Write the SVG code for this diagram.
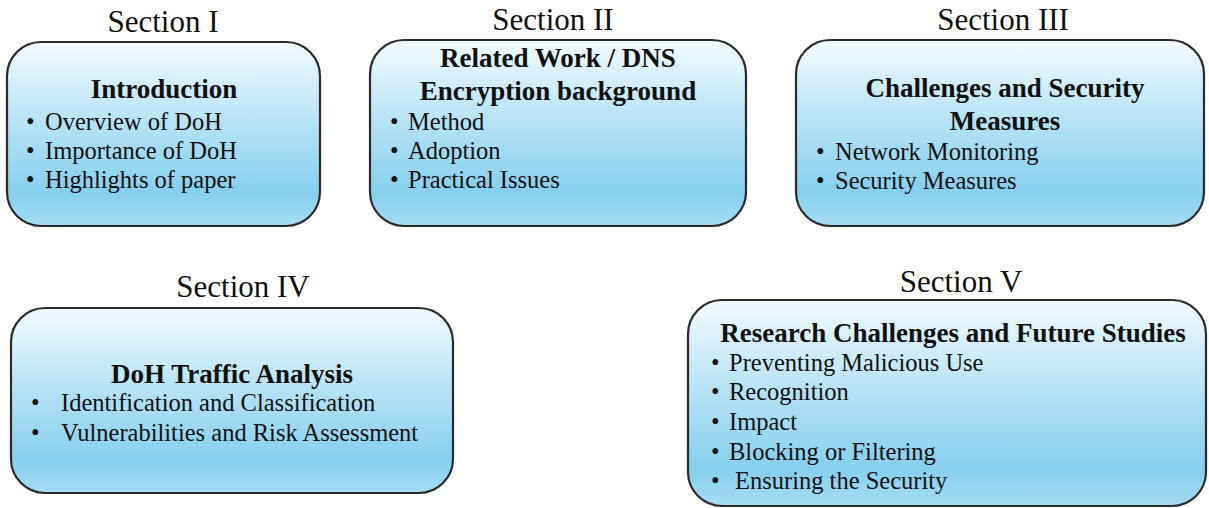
<svg xmlns="http://www.w3.org/2000/svg" width="1209" height="508" viewBox="0 0 1209 508">
<defs>
<linearGradient id="g" x1="0" y1="0" x2="0" y2="1">
<stop offset="0" stop-color="#f2fafe"/>
<stop offset="0.45" stop-color="#b5e2f5"/>
<stop offset="0.82" stop-color="#86cfee"/>
<stop offset="1" stop-color="#a6dcf3"/>
</linearGradient>
</defs>
<style>
.box{fill:url(#g);stroke:#2a2a2a;stroke-width:2.2}
text{font-family:"Liberation Serif","Times New Roman",serif;fill:#111}
.sec{font-size:31px;text-anchor:middle}
.t{font-size:27px;font-weight:bold;text-anchor:middle}
.b{font-size:24.5px}
</style>
<rect width="1209" height="508" fill="#fff"/>
<g id="connectors"/>
<g id="s1">
<text class="sec" x="163" y="32">Section I</text>
<rect class="box" x="7" y="42" width="313" height="184" rx="34"/>
<text class="t" x="164" y="98">Introduction</text>
<text class="b" x="26" y="130">•</text><text class="b" x="45" y="130">Overview of DoH</text>
<text class="b" x="26" y="159">•</text><text class="b" x="45" y="159">Importance of DoH</text>
<text class="b" x="26" y="188">•</text><text class="b" x="45" y="188">Highlights of paper</text>
</g>
<g id="s2">
<text class="sec" x="553" y="30">Section II</text>
<rect class="box" x="370" y="40" width="376" height="186" rx="34"/>
<text class="t" x="558" y="67">Related Work / DNS</text>
<text class="t" x="558" y="100">Encryption background</text>
<text class="b" x="390" y="130">•</text><text class="b" x="408" y="130">Method</text>
<text class="b" x="390" y="159">•</text><text class="b" x="408" y="159">Adoption</text>
<text class="b" x="390" y="188">•</text><text class="b" x="408" y="188">Practical Issues</text>
</g>
<g id="s3">
<text class="sec" x="1003" y="30">Section III</text>
<rect class="box" x="796" y="40" width="408" height="186" rx="34"/>
<text class="t" x="1005" y="97">Challenges and Security</text>
<text class="t" x="1005" y="130">Measures</text>
<text class="b" x="816" y="160">•</text><text class="b" x="835" y="160">Network Monitoring</text>
<text class="b" x="816" y="189">•</text><text class="b" x="835" y="189">Security Measures</text>
</g>
<g id="s4">
<text class="sec" x="243" y="297">Section IV</text>
<rect class="box" x="11" y="308" width="442" height="185" rx="34"/>
<text class="t" x="232" y="383">DoH Traffic Analysis</text>
<text class="b" x="31" y="411">•</text><text class="b" x="61" y="411">Identification and Classification</text>
<text class="b" x="31" y="441">•</text><text class="b" x="61" y="441">Vulnerabilities and Risk Assessment</text>
</g>
<g id="s5">
<text class="sec" x="961" y="292">Section V</text>
<rect class="box" x="688" y="300" width="518" height="206" rx="34"/>
<text class="t" x="953" y="342">Research Challenges and Future Studies</text>
<text class="b" x="711" y="371">•</text><text class="b" x="729" y="371">Preventing Malicious Use</text>
<text class="b" x="711" y="400">•</text><text class="b" x="729" y="400">Recognition</text>
<text class="b" x="711" y="430">•</text><text class="b" x="729" y="430">Impact</text>
<text class="b" x="711" y="460">•</text><text class="b" x="729" y="460">Blocking or Filtering</text>
<text class="b" x="711" y="489">•</text><text class="b" x="735" y="489">Ensuring the Security</text>
</g>
</svg>
